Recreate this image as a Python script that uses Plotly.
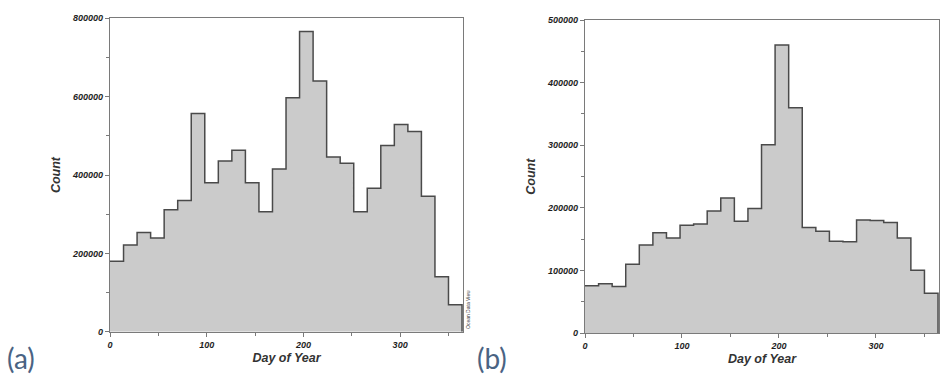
import plotly.graph_objects as go

# 14-day bins (bin start day)
bin_starts = [0, 14, 28, 42, 56, 70, 84, 98, 112, 126, 140, 154, 168,
              182, 196, 210, 224, 238, 252, 266, 280, 294, 308, 322, 336, 350]
bin_end = 364

counts_a = [180000, 221000, 253000, 239000, 311000, 335000, 557000, 380000,
            436000, 463000, 380000, 306000, 415000, 597000, 766000, 640000,
            446000, 430000, 306000, 366000, 475000, 529000, 511000, 346000,
            140000, 69000]
counts_b = [76000, 79000, 74500, 110000, 141000, 160500, 152000, 172500,
            174500, 195000, 216000, 179000, 199000, 301000, 460000, 360000,
            169000, 163000, 147000, 146000, 181000, 180000, 177000, 152000,
            100500, 64000]

x_ticks = [0, 100, 200, 300]
y_ticks_a = [0, 200000, 400000, 600000, 800000]
y_ticks_b = [0, 100000, 200000, 300000, 400000, 500000]

FILL = "#cbcbcb"
EDGE = "#4a4a4a"
FRAME = "#7a7a7a"
TXT = "#1e1e1e"

W, H = 940, 379


def px(x):
    return x / W


def py(y):
    return 1 - y / H


fig = go.Figure()


def step_trace(vals, xa, ya):
    xs = bin_starts + [bin_end, bin_end]
    ys = vals + [vals[-1], 0]
    return go.Scatter(x=xs, y=ys, mode="lines", line=dict(shape="hv", color=EDGE, width=1.5),
                      fill="tozeroy", fillcolor=FILL, xaxis=xa, yaxis=ya,
                      showlegend=False, hoverinfo="skip")


fig.add_trace(step_trace(counts_a, "x", "y"))
fig.add_trace(step_trace(counts_b, "x2", "y2"))

tickfont = dict(family="Liberation Sans, Arial", size=9, color=TXT, weight="bold", style="italic")
titlefont = dict(family="Liberation Sans, Arial", size=12.5, color="#333333", weight="bold", style="italic")

xcommon = dict(range=[0, 365], tickvals=x_ticks, ticks="outside", ticklen=4, tickcolor=FRAME,
               showline=True, linecolor=FRAME, linewidth=1.2, mirror=True, showgrid=False,
               zeroline=False, tickfont=tickfont, automargin=False,
               minor=dict(dtick=50, tick0=0, ticks="outside", ticklen=3, tickcolor=FRAME, showgrid=False),
               title=dict(text="Day of Year", font=titlefont, standoff=4))

ycommon = dict(ticks="outside", ticklen=4, tickcolor=FRAME, tickformat="d",
               showline=True, linecolor=FRAME, linewidth=1.2, mirror=True, showgrid=False,
               zeroline=False, tickfont=tickfont, automargin=False)

fig.update_layout(
    width=W, height=H,
    margin=dict(l=0, r=0, t=0, b=0),
    paper_bgcolor="white", plot_bgcolor="white",
    xaxis=dict(domain=[px(110), px(463)], anchor="y", **xcommon),
    xaxis2=dict(domain=[px(585), px(939)], anchor="y2", **xcommon),
    yaxis=dict(domain=[py(331.7), py(18.3)], anchor="x", range=[0, 800000],
               tickvals=y_ticks_a,
               minor=dict(dtick=100000, tick0=0, ticks="outside", ticklen=3, tickcolor=FRAME, showgrid=False),
               title=dict(text="Count", font=titlefont, standoff=8), **ycommon),
    yaxis2=dict(domain=[py(333.3), py(20)], anchor="x2", range=[0, 500000],
                tickvals=y_ticks_b,
                minor=dict(dtick=50000, tick0=0, ticks="outside", ticklen=3, tickcolor=FRAME, showgrid=False),
                title=dict(text="Count", font=titlefont, standoff=8), **ycommon),
)

panel_font = dict(family="Lato, Noto Sans", size=28, color="#4a6383")
fig.add_annotation(text="(a)", x=px(5), y=py(358), xref="paper", yref="paper",
                   xanchor="left", yanchor="middle", showarrow=False, font=panel_font)
fig.add_annotation(text="(b)", x=px(475), y=py(358), xref="paper", yref="paper",
                   xanchor="left", yanchor="middle", showarrow=False, font=panel_font)
fig.add_annotation(text="Ocean Data View", x=px(467.5), y=py(331), xref="paper", yref="paper",
                   xanchor="center", yanchor="bottom", textangle=-90, showarrow=False,
                   font=dict(family="Liberation Sans, Arial", size=5, color="#444444"))

fig.write_html("out.html", config={"displayModeBar": False},
               post_script="document.body.style.margin='0';document.body.style.overflow='hidden';")
